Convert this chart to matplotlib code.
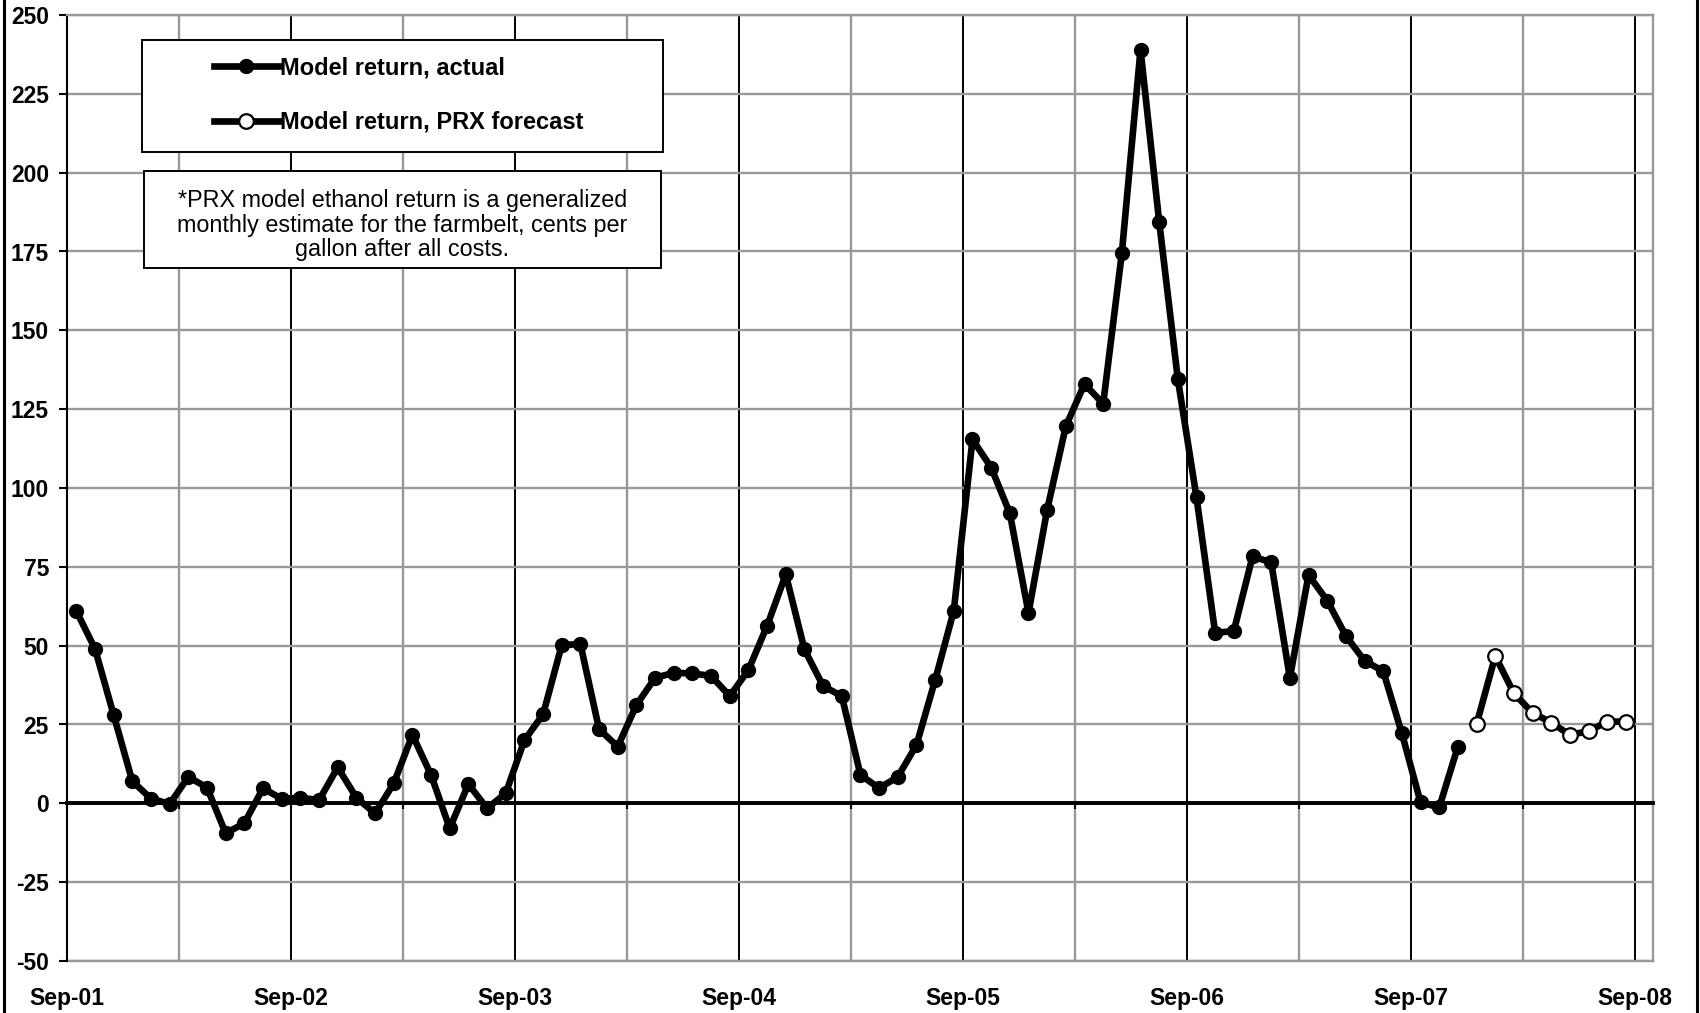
import matplotlib
matplotlib.use("Agg")
import matplotlib.pyplot as plt
from matplotlib.patches import Rectangle
from matplotlib.lines import Line2D
import numpy as np

# PRX model ethanol return, cents/gal, monthly from Sep-01
actual = [61, 49, 28, 7, 1.5, -0.2, 8.4, 5, -9.5, -6.3, 4.8, 1.4,
          1.8, 1, 11.4, 1.8, -3.2, 6.3, 21.7, 9, -7.9, 6.1, -1.6, 3.2,
          20, 28.2, 50.2, 50.5, 23.5, 18, 31.2, 39.8, 41.4, 41.2, 40.4, 34,
          42.3, 56.3, 72.6, 48.8, 37.2, 34, 9, 4.8, 8.4, 18.5, 39.1, 61.1,
          115.4, 106.5, 92, 60.4, 93.1, 119.6, 133, 126.7, 174.5, 239, 184.4, 134.5,
          97, 54, 54.7, 78.3, 76.4, 39.8, 72.4, 64.3, 53.1, 45.2, 41.9, 22.2,
          0.3, -1.3, 18]
forecast = [25.1, 46.7, 34.9, 28.7, 25.6, 21.7, 22.9, 25.9, 25.9]

year_labels = ["Sep-01", "Sep-02", "Sep-03", "Sep-04", "Sep-05", "Sep-06", "Sep-07", "Sep-08"]
y_ticks = list(range(-50, 251, 25))

series_names = ["Model return, actual", "Model return, PRX forecast"]
note = ("*PRX model ethanol return is a generalized\n"
        "monthly estimate for the farmbelt, cents per\n"
        "gallon after all costs.")

plt.rcParams['font.family'] = ['Liberation Sans', 'DejaVu Sans']

W, H = 1700, 1013
fig = plt.figure(figsize=(W / 100, H / 100), dpi=100, facecolor='white')
ax = fig.add_axes([67 / W, 52 / H, 1586 / W, 946 / H])

# month positions (points sit mid-month)
x_act = np.arange(len(actual)) + 0.5
x_fc = np.arange(len(actual), len(actual) + len(forecast)) + 0.5

l1, = ax.plot(x_act, actual, color='black', lw=4.8, marker='o', ms=10,
              mfc='black', mec='black', zorder=3, clip_on=False)
l2, = ax.plot(x_fc, forecast, color='black', lw=4.8, marker='o', ms=10.5,
              mfc='white', mec='black', mew=1.6, zorder=3, clip_on=False)

ax.set_xlim(0, 84.95)
ax.set_ylim(-50, 250)

# grid: gray horizontals, black yearly / gray half-year verticals
ax.set_yticks(y_ticks)
ax.set_yticklabels([str(v) for v in y_ticks], fontsize=16.5, fontweight='bold')
ax.set_xticks(np.arange(0, 85, 12))
ax.set_xticks(np.arange(6, 85, 12), minor=True)
ax.yaxis.grid(True, color='#999999', lw=1.7)
ax.xaxis.grid(True, which='major', color='black', lw=1.4)
ax.xaxis.grid(True, which='minor', color='#999999', lw=1.7)
ax.set_axisbelow(True)

ax.tick_params(axis='y', direction='out', length=6, width=1.5, pad=7, color='black')
ax.tick_params(axis='x', which='both', direction='out', length=4, width=1.5,
               labelbottom=False)

# x axis crosses at zero
ax.spines['bottom'].set_position(('data', 0))
ax.spines['bottom'].set_color('black')
ax.spines['bottom'].set_linewidth(2.8)
ax.spines['left'].set_color('black')
ax.spines['left'].set_linewidth(1.5)
for s in ['top', 'right']:
    ax.spines[s].set_color('#999999')
    ax.spines[s].set_linewidth(1.7)

sec = ax.secondary_xaxis('bottom')
sec.set_xticks(np.arange(0, 85, 12))
sec.set_xticklabels(year_labels, fontsize=16.5, fontweight='bold')
sec.tick_params(length=0, pad=19)
sec.spines['bottom'].set_color('#999999')
sec.spines['bottom'].set_linewidth(1.7)

# legend box
ax.add_patch(Rectangle((0.0473, 0.8552), 0.3285, 0.1184, transform=ax.transAxes,
                       fc='white', ec='black', lw=1.4, zorder=4))
leg = ax.legend([l1, l2], series_names, loc='center', bbox_to_anchor=(0.209, 0.9154),
                frameon=False, prop={'size': 17, 'weight': 'bold'},
                handlelength=2.75, handletextpad=0.05, labelspacing=1.35,
                borderpad=0, borderaxespad=0)
leg.set_zorder(5)

# note box
ax.add_patch(Rectangle((0.0486, 0.7326), 0.3259, 0.1025, transform=ax.transAxes,
                       fc='white', ec='black', lw=1.4, zorder=4))
ax.text(0.2115, 0.778, note, transform=ax.transAxes, ha='center', va='center',
        fontsize=16.8, linespacing=1.08, zorder=5)

# chart area border (left/right)
for xf in [4 / W, 1697 / W]:
    fig.add_artist(Line2D([xf, xf], [0, 1], transform=fig.transFigure,
                          color='black', lw=2.2))

fig.savefig("out.png", dpi=100, facecolor='white')
